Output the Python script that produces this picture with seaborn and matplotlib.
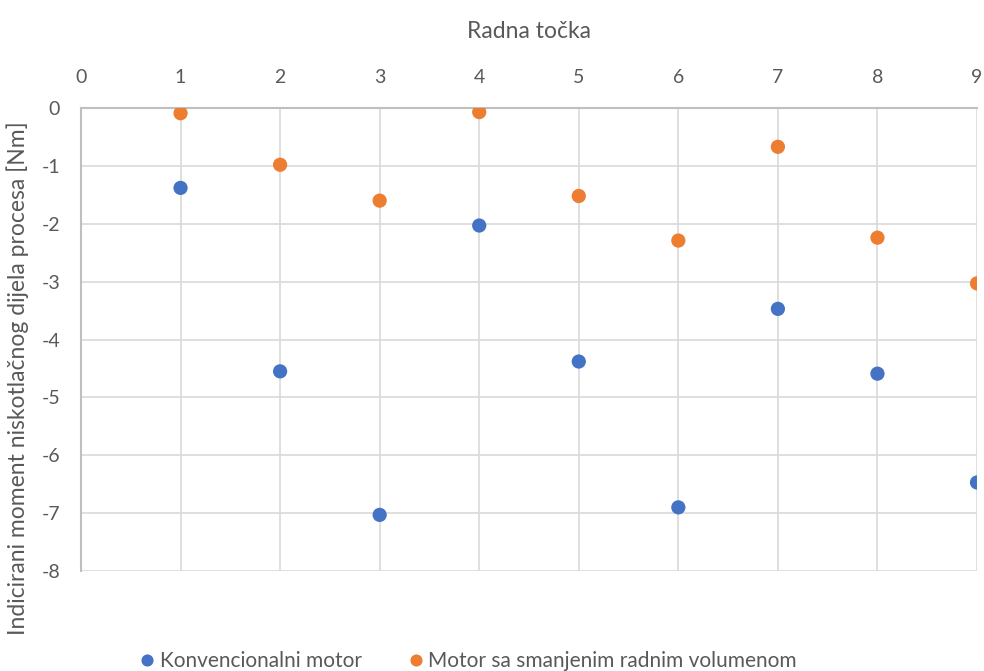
"""
Scatter of indicated low-pressure torque per operating point.
"""

import matplotlib
matplotlib.use("Agg")
import matplotlib.pyplot as plt
import pandas as pd
import seaborn as sns

# Data
radna_tocka = [1, 2, 3, 4, 5, 6, 7, 8, 9]
konvencionalni = [-1.38, -4.55, -7.03, -2.03, -4.38, -6.90, -3.47, -4.59, -6.47]
smanjeni = [-0.09, -0.98, -1.60, -0.07, -1.52, -2.29, -0.67, -2.24, -3.03]
serije = ["Konvencionalni motor", "Motor sa smanjenim radnim volumenom"]
boje = ["#4472C4", "#ED7D31"]

sns.set_theme(style="white")
plt.rcParams["font.family"] = ["Lato", "DejaVu Sans"]
plt.rcParams["axes.unicode_minus"] = False

df = pd.DataFrame({
    "x": radna_tocka * 2,
    "y": konvencionalni + smanjeni,
    "serija": [serije[0]] * len(radna_tocka) + [serije[1]] * len(radna_tocka),
})

fig = plt.figure(figsize=(9.84, 6.71), dpi=100)
ax = fig.add_axes([0.0823, 0.149, 0.9106, 0.690])

sns.scatterplot(
    data=df, x="x", y="y", hue="serija", palette=boje,
    s=105, edgecolor="none", ax=ax, zorder=3
)

ax.set_xlim(0, 9)
ax.set_ylim(-8, 0)
ax.set_xticks(range(0, 10))
ax.set_yticks(range(-8, 1))
ax.xaxis.tick_top()
ax.xaxis.set_label_position("top")
ax.tick_params(axis="both", length=0, labelsize=14, colors="#595959")
ax.tick_params(axis="x", pad=16)
ax.tick_params(axis="y", pad=15)

# Excel-like gridlines
ax.grid(True, color="#D9D9D9", linewidth=1.2)
for side in ["right", "bottom"]:
    ax.spines[side].set_visible(False)
for side in ["top", "left"]:
    ax.spines[side].set_color("#BFBFBF")
    ax.spines[side].set_linewidth(1.5)

ax.set_xlabel("Radna točka", fontsize=16.5, color="#595959", labelpad=22)
ax.set_ylabel("Indicirani moment niskotlačnog dijela procesa [Nm]",
              fontsize=16.5, color="#595959")
ax.yaxis.set_label_coords(-0.058, 0.417)

leg = ax.legend(
    loc="center", bbox_to_anchor=(0.425, -0.195), ncol=2,
    frameon=False, fontsize=15, handletextpad=-0.4, columnspacing=1.6,
    markerscale=0.85,
)
for t in leg.get_texts():
    t.set_color("#595959")

fig.savefig("out.png", dpi=100)
plt.close(fig)
